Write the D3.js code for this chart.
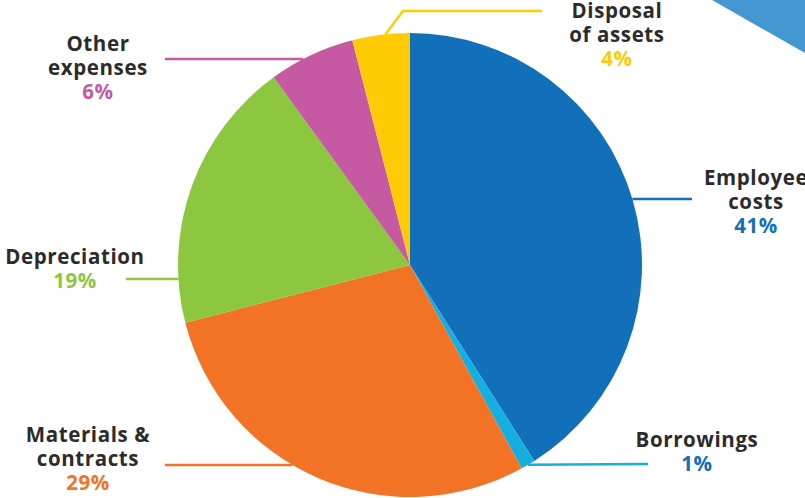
<!DOCTYPE html>
<html>
<head>
<meta charset="utf-8">
<script src="https://cdn.jsdelivr.net/npm/d3@7"></script>
<style>
  html, body { margin: 0; padding: 0; background: #fff; }
  svg { display: block; }
  text { font-family: "Open Sans", "Noto Sans", sans-serif; font-weight: 700; }
</style>
</head>
<body>
<div id="chart"></div>
<script>
// data
var categories = ["Employee costs", "Borrowings", "Materials & contracts", "Depreciation", "Other expenses", "Disposal of assets"];
var values = [41, 1, 29, 19, 6, 4];
var colors = ["#1170b9", "#12afe0", "#f37326", "#8dc63f", "#c55aa3", "#ffcb05"];
var labelLines = [["Employee", "costs"], ["Borrowings"], ["Materials &", "contracts"], ["Depreciation"], ["Other", "expenses"], ["Disposal", "of assets"]];
var pctColors = ["#1170b9", "#1170b9", "#f37326", "#8dc63f", "#c55aa3", "#ffcb05"];

document.addEventListener("DOMContentLoaded", function() {
  var width = 805, height = 498;
  var cx = 410, cy = 265, radius = 232;

  var svg = d3.select("#chart")
      .append("svg")
      .attr("width", width)
      .attr("height", height);

  // decorative corner triangle
  svg.append("path")
    .attr("d", "M712,0 L805,0 L805,53 Z")
    .attr("fill", "#4398d1");

  var pie = d3.pie().sort(null).value(d => d);
  var arcs = pie(values);
  var arc = d3.arc().innerRadius(0).outerRadius(radius);

  var g = svg.append("g")
      .attr("transform", "translate(" + cx + "," + cy + ")");

  g.selectAll("path.slice")
    .data(arcs)
    .enter().append("path")
    .attr("class", "slice")
    .attr("fill", (d, i) => colors[i])
    .attr("d", arc);

  // label layout: text centre x, first line y, leader y, leader outer x
  var layout = [
    {tx: 756, ty: 185, ly: 199, lx: 692},
    {tx: 697, ty: 447, ly: 464, lx: 648},
    {tx: 88, ty: 442, ly: 465, lx: 165},
    {tx: 75, ty: 264, ly: 279, lx: 126},
    {tx: 98, ty: 51, ly: 59, lx: 165},
    {tx: 617, ty: 18, ly: 11, lx: 542}
  ];

  function edgeX(y, side) {
    var dy = y - cy;
    return cx + side * Math.sqrt(radius * radius - dy * dy);
  }

  arcs.forEach(function(a, i) {
    var L = layout[i];
    var pts;
    if (i === 5) {
      // disposal: elbow from slice mid
      var mid = (a.startAngle + a.endAngle) / 2 + 0.02;
      var sx = cx + radius * Math.sin(mid), sy = cy - radius * Math.cos(mid);
      pts = [[sx, sy], [403, L.ly], [L.lx, L.ly]];
    } else if (i === 1) {
      var mid = (a.startAngle + a.endAngle) / 2;
      pts = [[cx + radius * Math.sin(mid), cy - radius * Math.cos(mid)], [L.lx, L.ly]];
    } else {
      var side = L.lx > cx ? 1 : -1;
      pts = [[edgeX(L.ly, side), L.ly], [L.lx, L.ly]];
    }
    svg.append("path")
      .attr("d", d3.line()(pts))
      .attr("fill", "none")
      .attr("stroke", colors[i])
      .attr("stroke-width", 2.5);

    var t = svg.append("text")
      .attr("text-anchor", "middle")
      .attr("font-size", 20.5)
      .attr("letter-spacing", 0.6);
    labelLines[i].forEach(function(s, k) {
      t.append("tspan")
        .attr("x", L.tx)
        .attr("y", L.ty + k * 24)
        .attr("fill", "#2b2b2b")
        .text(s);
    });
    t.append("tspan")
      .attr("x", L.tx)
      .attr("y", L.ty + labelLines[i].length * 24)
      .attr("fill", pctColors[i])
      .text(values[i] + "%");
  });
});
</script>
</body>
</html>
